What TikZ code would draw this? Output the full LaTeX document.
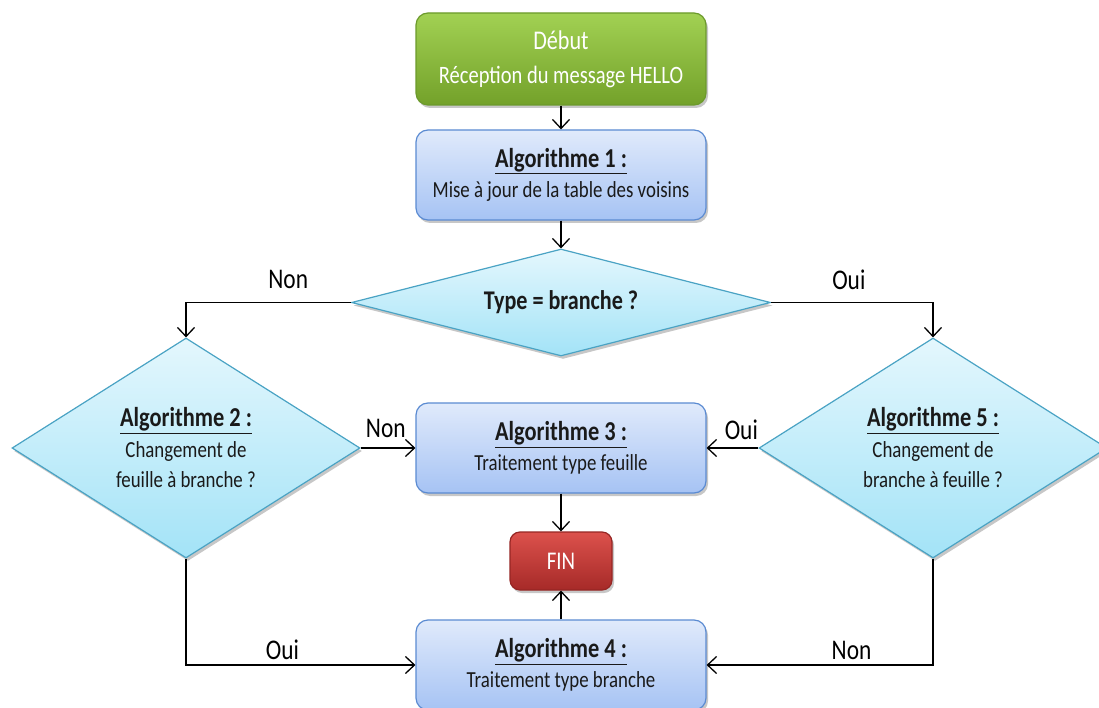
\documentclass[tikz,border=0pt]{standalone}
\usepackage{fontspec}
\setmainfont{Carlito}[FakeStretch=0.82]
\usetikzlibrary{shapes.geometric,arrows.meta,shadows}
\definecolor{txt}{HTML}{1A1A1A}
\definecolor{gtop}{HTML}{A2D153}
\definecolor{gbot}{HTML}{73A12A}
\definecolor{gbrd}{HTML}{6C9A2C}
\definecolor{btop}{HTML}{E0EAFB}
\definecolor{bbot}{HTML}{A6C3F4}
\definecolor{bbrd}{HTML}{5B8BD2}
\definecolor{ctop}{HTML}{E4F7FD}
\definecolor{cbot}{HTML}{A3E3F7}
\definecolor{cbrd}{HTML}{4AA3C4}
\definecolor{rtop}{HTML}{DC514C}
\definecolor{rbot}{HTML}{A62A28}
\definecolor{rbrd}{HTML}{962624}
\newcommand{\ttl}{\fontsize{27.3}{30}\selectfont\bfseries}
\tikzset{
  shad/.style={drop shadow={shadow xshift=2pt,shadow yshift=-3pt,opacity=0.22,fill=black}},
  boxbase/.style={rectangle,rounded corners=12pt,line width=1.2pt,align=center,inner sep=0pt,shad,
    font=\fontsize{23}{30}\selectfont},
  greenbox/.style={boxbase,draw=gbrd,top color=gtop,bottom color=gbot,text=white,
    minimum width=290pt,minimum height=92pt,font=\fontsize{25}{34}\selectfont},
  bluebox/.style={boxbase,draw=bbrd,top color=btop,bottom color=bbot,text=txt,
    minimum width=290pt,minimum height=90pt},
  redbox/.style={boxbase,rounded corners=10pt,draw=rbrd,top color=rtop,bottom color=rbot,text=white,
    minimum width=102pt,minimum height=58pt,font=\fontsize{25.5}{28}\selectfont},
  decis/.style={diamond,inner sep=0pt,line width=1.2pt,draw=cbrd,top color=ctop,bottom color=cbot,
    text=txt,align=center,shad,font=\fontsize{23}{30.5}\selectfont},
  arr/.style={line width=1.3pt,draw=black,-{Straight Barb[length=9pt,width=17pt,line width=1.3pt]}},
  lbl/.style={font=\fontsize{28.5}{30}\selectfont,text=black,inner sep=0pt}
}
\begin{document}
\begin{tikzpicture}[x=1pt,y=-1pt]
\useasboundingbox[fill=white] (0,0) rectangle (1099,708);
\node[greenbox] (debut) at (561,59) {{\fontsize{27}{34}\selectfont Début}\\Réception du message HELLO};
\node[bluebox] (a1) at (561,175) {{\ttl\underline{Algorithme 1 :}}\\Mise à jour de la table des voisins};
\node[decis,minimum width=419pt,minimum height=107pt,aspect=3.9] (type) at (561,302.5)
  {{\fontsize{27}{30}\selectfont\bfseries Type = branche ?}};
\node[decis,minimum width=348pt,minimum height=220pt,aspect=1.58] (a2) at (186,448)
  {{\ttl\underline{Algorithme 2 :}}\\Changement de\\feuille à branche ?};
\node[decis,minimum width=348pt,minimum height=220pt,aspect=1.58] (a5) at (933,448)
  {{\ttl\underline{Algorithme 5 :}}\\Changement de\\branche à feuille ?};
\node[bluebox] (a3) at (561,448) {{\ttl\underline{Algorithme 3 :}}\\Traitement type feuille};
\node[redbox] (fin) at (561,561) {FIN};
\node[bluebox,minimum height=90pt] (a4) at (561,665) {{\ttl\underline{Algorithme 4 :}}\\Traitement type branche};

\draw[arr] (debut) -- (a1);
\draw[arr] (a1) -- (type);
\draw[arr] (type.west) -| node[lbl,pos=0.19,yshift=23pt] (lnon1) {Non} (a2.north);
\draw[arr] (type.east) -| node[lbl,pos=0.24,yshift=23pt] (loui1) {Oui} (a5.north);
\draw[arr] (a2.east) -- node[lbl,pos=0.46,yshift=20pt] (lnon2) {Non} (a3.west);
\draw[arr] (a5.west) -- node[lbl,pos=0.33,yshift=18pt] (loui2) {Oui} (a3.east);
\draw[arr] (a3) -- (fin);
\draw[arr] (a4) -- (fin);
\draw[arr] (a2.south) |- node[lbl,pos=0.71,yshift=15pt] (loui3) {Oui} (a4.west);
\draw[arr] (a5.south) |- node[lbl,pos=0.68,yshift=15pt] (lnon3) {Non} (a4.east);
\end{tikzpicture}
\end{document}
